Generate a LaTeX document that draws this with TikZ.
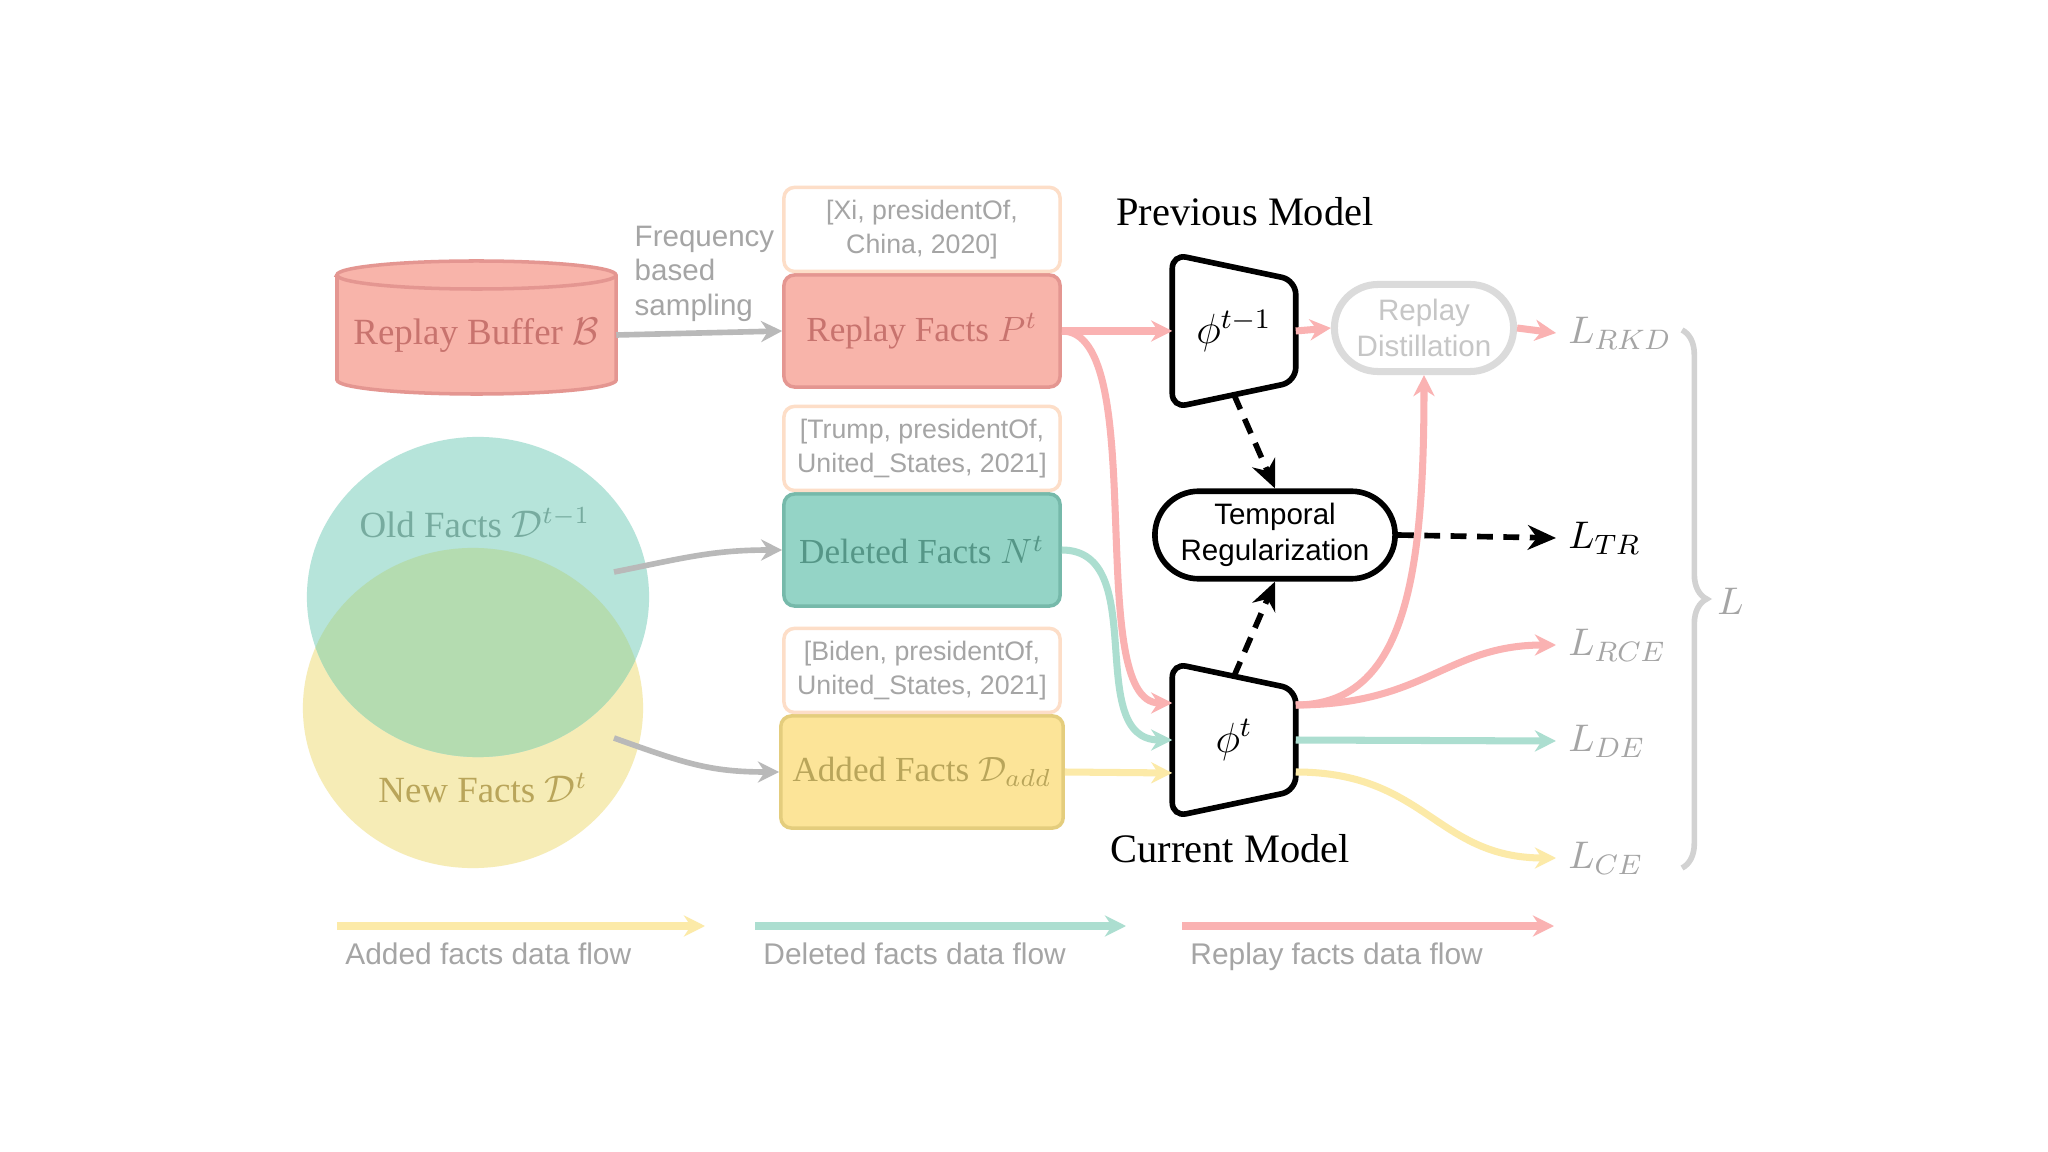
\documentclass[tikz,border=0pt]{standalone}
\usepackage{amsmath}
\usepackage{fontspec}
\setmainfont{Liberation Serif}
\setsansfont{Liberation Sans}
\usetikzlibrary{arrows.meta,positioning,calc,shapes.geometric,shapes.misc,decorations.pathreplacing}
\definecolor{replayfill}{RGB}{248,180,170}
\definecolor{replayline}{RGB}{228,150,145}
\definecolor{replaytext}{RGB}{200,115,110}
\definecolor{delfill}{RGB}{148,212,198}
\definecolor{delline}{RGB}{118,185,170}
\definecolor{deltext}{RGB}{85,150,135}
\definecolor{addfill}{RGB}{252,228,152}
\definecolor{addline}{RGB}{228,205,125}
\definecolor{addtext}{RGB}{185,165,90}
\definecolor{oldset}{RGB}{182,228,218}
\definecolor{newset}{RGB}{246,236,182}
\definecolor{bothset}{RGB}{180,220,176}
\definecolor{tagline}{RGB}{253,222,200}
\definecolor{redflow}{RGB}{250,178,178}
\definecolor{tealflow}{RGB}{172,222,208}
\definecolor{yellowflow}{RGB}{252,234,168}
\definecolor{fadegray}{RGB}{165,165,165}

\begin{document}
\begin{tikzpicture}[x=0.01cm, y=-0.01cm, every node/.style={font=\fontsize{10.5}{12.5}\selectfont},
    factbox/.style={draw, line width=1pt, rounded corners=3pt, minimum width=2.76cm, minimum height=1.12cm, font=\fontsize{10}{12}\selectfont},
    tagbox/.style={draw=tagline, line width=1pt, fill=white, rounded corners=3pt, minimum width=2.76cm, minimum height=0.84cm, align=center, text=fadegray, font=\sffamily\fontsize{7.6}{9.6}\selectfont},
    model/.style={minimum width=1.22cm, minimum height=1.52cm, font=\fontsize{12}{14}\selectfont},
    flow/.style={line width=2pt, -{Stealth[length=6pt,width=6pt]}},
    feed/.style={line width=1.6pt, draw=gray!55, -{Stealth[length=6pt,width=6pt]}},
    tr/.style={dashed, dash pattern=on 4.5pt off 3pt, line width=1.6pt, -{Stealth[length=8pt,width=7pt]}},
    loss/.style={anchor=west, font=\fontsize{11}{13}\selectfont},
    legendtext/.style={anchor=north west, text=fadegray, font=\sffamily\fontsize{8.5}{10}\selectfont}]
  \fill[white] (0,0) rectangle (2048,1152);
  \useasboundingbox (0,0) rectangle (2048,1152);

  % old / new facts
  \node[ellipse, fill=newset, minimum width=3.4cm, minimum height=3.2cm] (newfacts) at (473,708) {};
  \node[ellipse, fill=oldset, minimum width=3.42cm, minimum height=3.2cm] (oldfacts) at (478,597) {};
  \begin{scope}
    \clip (478,597) ellipse [x radius=1.71cm, y radius=1.6cm];
    \fill[bothset] (473,708) ellipse [x radius=1.7cm, y radius=1.6cm];
  \end{scope}
  \node[text=deltext!80] (oldlabel) at (475,523) {Old Facts $\mathcal{D}^{t-1}$};
  \node[text=addtext] (newlabel) at (483,788) {New Facts $\mathcal{D}^{t}$};

  % replay buffer
  \filldraw[fill=replayfill, draw=replayline, line width=1pt] (337,275) -- (337,380)
    arc[start angle=180, end angle=360, x radius=1.395cm, y radius=0.14cm] -- (616,275)
    arc[start angle=0, end angle=180, x radius=1.395cm, y radius=0.14cm] -- cycle;
  \draw[draw=replayline, line width=1pt] (337,275) arc[start angle=180, end angle=360, x radius=1.395cm, y radius=0.14cm];
  \node[minimum width=2.79cm, minimum height=1.1cm, text=replaytext] (buffer) at (476,335) {Replay Buffer $\mathcal{B}$};

  % fact boxes
  \node[factbox, fill=replayfill, draw=replayline, text=replaytext] (replay) at (922,331) {Replay Facts $P^t$};
  \node[tagbox, above=0pt of replay] (replaytag) {[Xi, presidentOf,\\China, 2020]};
  \node[factbox, fill=delfill, draw=delline, text=deltext] (deleted) at (922,550) {Deleted Facts $N^t$};
  \node[tagbox, above=0pt of deleted] (deletedtag) {[Trump, presidentOf,\\United\_States, 2021]};
  \node[factbox, fill=addfill, draw=addline, text=addtext] (added) at (922,772) {Added Facts $\mathcal{D}_{add}$};
  \node[tagbox, above=0pt of added] (addedtag) {[Biden, presidentOf,\\United\_States, 2021]};

  \node[anchor=south west, inner sep=0pt, align=left, text=fadegray, font=\sffamily\fontsize{8.4}{9.8}\selectfont] (freq) at (634,322) {Frequency\\based\\sampling};
  \draw[feed] (buffer.east) -- (replay.west);
  \coordinate (oldout) at (614,572);
  \coordinate (newout) at (614,738);
  \draw[feed] (oldout) .. controls +(70,-14) and +(-70,0) .. (deleted.west);
  \draw[feed] (newout) .. controls +(70,25) and +(-70,0) .. (added.west);

  % models
  \node[model] (prev) at (1234,331) {$\phi^{t-1}$};
  \draw[line width=1.6pt, rounded corners=4pt] (prev.north west) -- ($(prev.north east)+(0,26)$) -- ($(prev.south east)+(0,-26)$) -- (prev.south west) -- cycle;
  \node (prevtitle) at (1245,212) {\fontsize{11.5}{13}\selectfont Previous Model};
  \node[model] (cur) at (1234,740) {$\phi^{t}$};
  \draw[line width=1.6pt, rounded corners=4pt] (cur.north west) -- ($(cur.north east)+(0,26)$) -- ($(cur.south east)+(0,-26)$) -- (cur.south west) -- cycle;
  \node (curtitle) at (1230,849) {\fontsize{11.5}{13}\selectfont Current Model};

  \node[rounded rectangle, draw, line width=1.6pt, minimum width=2.39cm, minimum height=0.85cm, align=center, font=\sffamily\fontsize{8.4}{10.4}\selectfont] (tempreg) at (1275,535) {Temporal\\Regularization};
  \node[rounded rectangle, draw=gray!28, line width=2pt, minimum width=1.69cm, minimum height=0.87cm, align=center, text=gray!45, font=\sffamily\fontsize{8.4}{10}\selectfont] (distill) at (1424,328) {Replay\\Distillation};

  % losses
  \node[loss, text=fadegray] (lrkd) at (1556,333) {$L_{RKD}$};
  \node[loss] (ltr) at (1556,538) {$L_{TR}$};
  \node[loss, text=fadegray] (lrce) at (1556,645) {$L_{RCE}$};
  \node[loss, text=fadegray] (lde) at (1556,741) {$L_{DE}$};
  \node[loss, text=fadegray] (lce) at (1556,858) {$L_{CE}$};
  \draw[decorate, decoration={brace, amplitude=7pt}, line width=1.6pt, draw=gray!35] (1682,330) -- (1682,868);
  \node[loss, text=fadegray] (ltotal) at (1705,601) {$L$};

  % data flows
  \draw[flow, redflow] (replay.east) -- (prev.west);
  \draw[flow, redflow] (prev.east) -- (distill.west);
  \draw[flow, redflow] (distill.east) -- (lrkd.west);
  \draw[flow, redflow] (replay.east) .. controls +(90,0) and +(-90,0) .. ($(cur.west)+(0,-37)$);
  \draw[flow, redflow] ($(cur.east)+(0,-35)$) .. controls +(110,0) and +(0,200) .. (distill.south);
  \draw[flow, redflow] ($(cur.east)+(0,-35)$) .. controls +(130,0) and +(-110,0) .. (lrce.west);
  \draw[flow, tealflow] (deleted.east) .. controls +(90,0) and +(-90,0) .. (cur.west);
  \draw[flow, tealflow] (cur.east) -- (lde.west);
  \draw[flow, yellowflow] (added.east) -- ($(cur.west)+(0,33)$);
  \draw[flow, yellowflow] ($(cur.east)+(0,32)$) .. controls +(130,0) and +(-120,0) .. (lce.west);

  % temporal regularization
  \coordinate (prevbot) at ($(prev.south)+(0,-13)$);
  \coordinate (curtop) at ($(cur.north)+(0,13)$);
  \draw[tr] (prevbot) -- (tempreg.north);
  \draw[tr] (curtop) -- (tempreg.south);
  \draw[tr] (tempreg.east) -- (ltr.west);

  % legend
  \node[legendtext] (legadd) at (333,930) {Added facts data flow};
  \node[legendtext] (legdel) at (751,930) {Deleted facts data flow};
  \node[legendtext] (legrep) at (1178,930) {Replay facts data flow};
  \draw[flow, yellowflow] (legadd.north west) ++(4,-4) -- ++(368,0);
  \draw[flow, tealflow] (legdel.north west) ++(4,-4) -- ++(371,0);
  \draw[flow, redflow] (legrep.north west) ++(4,-4) -- ++(372,0);
\end{tikzpicture}
\end{document}
